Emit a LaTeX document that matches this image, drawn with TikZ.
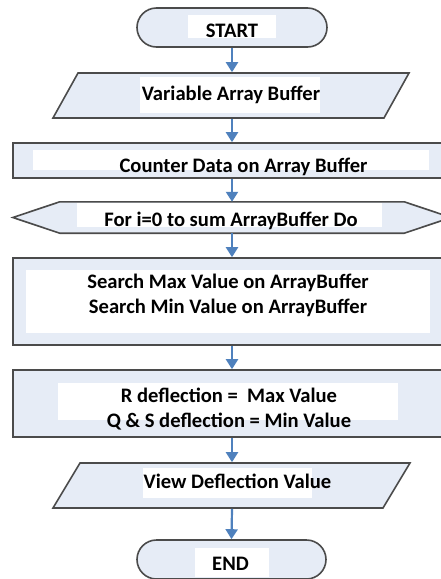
\documentclass[tikz,border=0pt]{standalone}
\usepackage{fontspec}
\setmainfont{Carlito}
\usetikzlibrary{shapes.misc,arrows.meta}
\definecolor{boxfill}{RGB}{230,236,246}
\definecolor{boxline}{RGB}{75,75,75}
\definecolor{arrowblue}{RGB}{79,129,189}
\newcommand{\flowfont}{\bfseries\fontsize{20.6}{25}\selectfont}
\tikzset{
  flowbox/.style={draw=boxline,fill=boxfill,line width=1.6pt,inner sep=0pt},
  patch/.style={fill=white,inner sep=0pt},
  flowtext/.style={font=\flowfont,align=center,inner sep=0pt,anchor=base},
  flowarrow/.style={draw=arrowblue,line width=2.2pt,-{Triangle[width=12pt,length=10pt]}}
}
\begin{document}
\begin{tikzpicture}[x=1pt,y=-1pt]
  \useasboundingbox (0,0) rectangle (441,579);
  \clip (0,0) rectangle (441,579);
  % shapes
  \node[flowbox,rounded rectangle,minimum width=190pt,minimum height=39pt] (start) at (232,27.5) {};
  \node[flowbox,xslant=0.556,minimum width=331pt,minimum height=45pt] (input) at (231,95.5) {};
  \node[flowbox,minimum width=438pt,minimum height=35pt] (count) at (232,160.5) {};
  \node[inner sep=0pt,minimum width=438pt,minimum height=31pt] (loop) at (232,217.5) {};
  \draw[flowbox] (loop.west) -- ([xshift=47pt]loop.north west) -- ([xshift=-47pt]loop.north east)
    -- (loop.east) -- ([xshift=-47pt]loop.south east) -- ([xshift=47pt]loop.south west) -- cycle;
  \node[flowbox,minimum width=438pt,minimum height=87pt] (search) at (232,301.5) {};
  \node[flowbox,minimum width=438pt,minimum height=67pt] (deflect) at (232,403.5) {};
  \node[flowbox,xslant=0.6,minimum width=330pt,minimum height=45pt] (output) at (231.5,485.5) {};
  \node[flowbox,rounded rectangle,minimum width=189pt,minimum height=39pt] (end) at (231.5,559.5) {};
  % white patches behind the texts
  \node[patch,minimum width=88pt,minimum height=23pt] (startp) at (232,26.5) {};
  \node[patch,minimum width=180pt,minimum height=36pt] (inputp) at (230,95) {};
  \node[patch,minimum width=396pt,minimum height=20pt] (countp) at (231,160) {};
  \node[patch,minimum width=305pt,minimum height=24pt] (loopp) at (229.5,215) {};
  \node[patch,minimum width=404pt,minimum height=63pt] (searchp) at (228,301.5) {};
  \node[patch,minimum width=340pt,minimum height=37pt] (deflectp) at (228,401.5) {};
  \node[patch,minimum width=169pt,minimum height=30pt] (outputp) at (227.5,483) {};
  \node[patch,minimum width=74pt,minimum height=29pt] (endp) at (232,562.5) {};
  % texts
  \node[flowtext] (startt) at (232,37) {START};
  \node[flowtext] (inputt) at (231,100) {Variable Array Buffer};
  \node[flowtext] (countt) at (243.5,172.5) {Counter Data on Array Buffer};
  \node[flowtext] (loopt) at (231,226) {For i=0 to sum ArrayBuffer Do};
  \node[flowtext] (searcht) at (228,313.3) {Search Max Value on ArrayBuffer\\Search Min Value on ArrayBuffer};
  \node[flowtext] (deflectt) at (229,427.7) {R deflection =\ \ Max Value\\Q \& S deflection = Min Value};
  \node[flowtext] (outputt) at (237.5,488) {View Deflection Value};
  \node[flowtext] (endt) at (230.5,570) {END};
  % connectors
  \draw[flowarrow] (start.south) -- (start.south |- input.north);
  \draw[flowarrow] (start.south |- input.south) -- (count.north);
  \draw[flowarrow] (count.south) -- (loop.north);
  \draw[flowarrow] (loop.south) -- (search.north);
  \draw[flowarrow] (search.south) -- (deflect.north);
  \draw[flowarrow] (deflect.south) -- (deflect.south |- output.north);
  \draw[flowarrow] (deflect.south |- output.south) -- (end.north);
\end{tikzpicture}
\end{document}
